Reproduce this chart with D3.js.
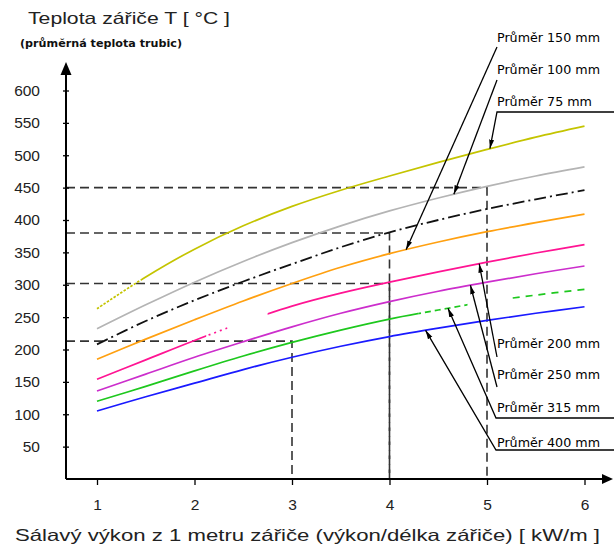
<!DOCTYPE html>
<html>
<head>
<meta charset="utf-8">
<script src="https://cdn.jsdelivr.net/npm/d3@7"></script>
<style>
  body { margin: 0; background: #fff; }
  svg { display: block; }
</style>
</head>
<body>
<div id="chart"></div>
<script>
// data
const xValues = [1, 1.5, 2, 2.5, 3, 3.5, 4, 4.5, 5, 5.5, 6];
const d75 = [263, 312, 355, 391, 421, 446, 468, 489, 509, 528, 545];
const d100 = [232, 269, 304, 336, 365, 391, 414, 434, 452, 468, 482];
const d125 = [208, 244, 276, 305, 332, 358, 381, 400, 417, 432, 446];
const d150 = [185, 216, 246, 275, 302, 327, 348, 366, 382, 396, 409];
const d200 = [154, 184, 214, 242, 267, 287, 304, 320, 335, 349, 362];
const d250 = [136, 162, 188, 212, 235, 256, 274, 290, 304, 317, 329];
const d315 = [120, 143, 167, 190, 211, 230, 247, 261, 274, 284, 293];
const d400 = [105, 127, 148, 169, 188, 205, 220, 233, 245, 256, 266];

const seriesKeys = ["75", "100", "125", "150", "200", "250", "315", "400"];
const seriesValues = [d75, d100, d125, d150, d200, d250, d315, d400];

const xTicks = [1, 2, 3, 4, 5, 6];
const yTicks = [50, 100, 150, 200, 250, 300, 350, 400, 450, 500, 550, 600];

// reading guides: [x, y]
const guideX = [5, 4, 4, 3];
const guideY = [450, 380, 302, 213];

// labels and where their arrows touch the curves
const labelTexts = ["Průměr 150 mm", "Průměr 100 mm", "Průměr 75 mm", "Průměr 200 mm",
  "Průměr 250 mm", "Průměr 315 mm", "Průměr 400 mm"];
const labelSeries = ["150", "100", "75", "200", "250", "315", "400"];
const labelAtX = [4.17, 4.66, 5.03, 4.92, 4.83, 4.6, 4.37];

const titleText = "Teplota zářiče T [ °C ]";
const subTitleText = "(průměrná teplota trubic)";
const xTitleText = "Sálavý výkon z 1 metru zářiče (výkon/délka zářiče) [ kW/m ]";

// styles
const colors = {
  "75": "#c4c400", "100": "#b4b4b4", "125": "#111", "150": "#ffa010",
  "200": "#ff1493", "250": "#cc2ecc", "315": "#1ec81e", "400": "#1a1aff"
};
const runs = {
  "75": [[0.9, 1.45, "2.5,1.5"], [1.45, 6.2, null]],
  "125": [[0.9, 6.2, "12,4,2,4"]],
  "200": [[0.9, 2.12, null], [2.12, 2.34, "2,4"], [2.75, 6.2, null]],
  "315": [[0.9, 4.3, null], [4.3, 4.8, "6,4"], [5.25, 6.2, "7,6"]]
};

const width = 614, height = 552;
const font = "'Liberation Sans', Arial, sans-serif";
const narrow = "'DejaVu Sans Condensed', 'DejaVu Sans', sans-serif";

const svg = d3.select("#chart").append("svg")
  .attr("width", width).attr("height", height);

const defs = svg.append("defs");
defs.append("marker")
  .attr("id", "arr")
  .attr("viewBox", "0 -3 9 6")
  .attr("refX", 9).attr("refY", 0)
  .attr("markerWidth", 9).attr("markerHeight", 6)
  .attr("markerUnits", "userSpaceOnUse")
  .attr("orient", "auto")
  .append("path").attr("d", "M0,-2.5L9,0L0,2.5Z").attr("fill", "#000");

//scales
const x = d3.scaleLinear().domain([1, 6]).range([97, 584.5]);
const y = d3.scaleLinear().domain([0, 600]).range([479, 90.5]);
const axisX0 = 66;

//guides
guideX.forEach((gx, i) => {
  svg.append("path")
    .attr("d", `M${axisX0},${y(guideY[i])}H${x(gx)}V${y(0)}`)
    .attr("fill", "none")
    .attr("stroke", "#333")
    .attr("stroke-width", 1.6)
    .attr("stroke-dasharray", "9,5");
});

//curves
const line = d3.line()
  .x((d) => x(d[0]))
  .y((d) => y(d[1]))
  .curve(d3.curveCatmullRom.alpha(0.5));

seriesKeys.forEach((key, i) => {
  const pts = xValues.map((xv, j) => [xv, seriesValues[i][j]]);
  const r = runs[key] || [[0.9, 6.2, null]];
  r.forEach((run, k) => {
    const id = `clip-${key}-${k}`;
    defs.append("clipPath").attr("id", id)
      .append("rect")
      .attr("x", x(run[0])).attr("y", 0)
      .attr("width", x(run[1]) - x(run[0])).attr("height", height);
    svg.append("path")
      .attr("d", line(pts))
      .attr("fill", "none")
      .attr("stroke", colors[key])
      .attr("stroke-width", key === "125" ? 1.8 : 1.7)
      .attr("stroke-dasharray", run[2])
      .attr("clip-path", `url(#${id})`);
  });
});

//axes
const yAxis = d3.axisLeft(y).tickValues(yTicks).tickSize(3).tickPadding(23);
const gy = svg.append("g").attr("transform", `translate(${axisX0},0)`).call(yAxis);
gy.select(".domain").remove();
gy.selectAll(".tick line").attr("x1", 3).attr("stroke", "#000").attr("stroke-width", 1.3);
gy.selectAll(".tick text")
  .attr("font-family", font).attr("font-size", 15.5).attr("fill", "#222");

const xAxis = d3.axisBottom(x).tickValues(xTicks).tickFormat(d3.format("d"))
  .tickSize(6).tickPadding(12);
const gx = svg.append("g").attr("transform", `translate(0,${y(0)})`).call(xAxis);
gx.select(".domain").remove();
gx.selectAll(".tick line").attr("stroke", "#000").attr("stroke-width", 1.3);
gx.selectAll(".tick text")
  .attr("font-family", font).attr("font-size", 15.5).attr("fill", "#222")
  .attr("dy", null).attr("y", 31);

// axis lines with arrows
svg.append("line")
  .attr("x1", axisX0).attr("y1", y(0)).attr("x2", axisX0).attr("y2", 74)
  .attr("stroke", "#000").attr("stroke-width", 2);
svg.append("path")
  .attr("d", `M${axisX0},62L${axisX0 + 5.5},75L${axisX0 - 5.5},75Z`).attr("fill", "#000");
svg.append("line")
  .attr("x1", axisX0).attr("y1", y(0)).attr("x2", 604).attr("y2", y(0))
  .attr("stroke", "#000").attr("stroke-width", 2);
svg.append("path")
  .attr("d", `M613,${y(0)}L602,${y(0) - 5}L602,${y(0) + 5}Z`).attr("fill", "#000");

//titles
svg.append("text")
  .attr("x", 28).attr("y", 24)
  .attr("font-family", font).attr("font-size", 16.5).attr("fill", "#222")
  .attr("textLength", 202).attr("lengthAdjust", "spacingAndGlyphs")
  .text(titleText);
svg.append("text")
  .attr("x", 20).attr("y", 47)
  .attr("font-family", narrow).attr("font-size", 11).attr("font-weight", "bold")
  .attr("fill", "#111")
  .attr("textLength", 162).attr("lengthAdjust", "spacingAndGlyphs")
  .text(subTitleText);
svg.append("text")
  .attr("x", 15).attr("y", 541)
  .attr("font-family", font).attr("font-size", 16.5).attr("fill", "#222")
  .attr("textLength", 585).attr("lengthAdjust", "spacingAndGlyphs")
  .text(xTitleText);

//labels + leaders
const labelBase = [41.5, 74, 106, 348, 379, 411.5, 446.5];
const leaderStart = [
  [[497, 47]], [[497, 80]], [[614, 112], [497, 112]],
  [[497, 357]], [[497, 387]], [[614, 418], [496, 418]], [[614, 450], [496, 450]]
];
const labelWidth = [103, 103, 95, 103, 103, 103, 103];

labelTexts.forEach((t, i) => {
  const vals = seriesValues[seriesKeys.indexOf(labelSeries[i])];
  const ax = labelAtX[i];
  const j = d3.bisectRight(xValues, ax) - 1;
  const f = (ax - xValues[j]) / (xValues[j + 1] - xValues[j]);
  const av = vals[j] + (vals[j + 1] - vals[j]) * f;
  const pts = leaderStart[i].concat([[x(ax), y(av)]]);
  svg.append("path")
    .attr("d", d3.line()(pts))
    .attr("fill", "none")
    .attr("stroke", "#000")
    .attr("stroke-width", 1.3)
    .attr("marker-end", "url(#arr)");

  svg.append("text")
    .attr("x", 497).attr("y", labelBase[i])
    .attr("font-family", narrow).attr("font-size", 13)
    .attr("fill", "#000")
    .attr("textLength", labelWidth[i]).attr("lengthAdjust", "spacingAndGlyphs")
    .text(t);
});
</script>
</body>
</html>
